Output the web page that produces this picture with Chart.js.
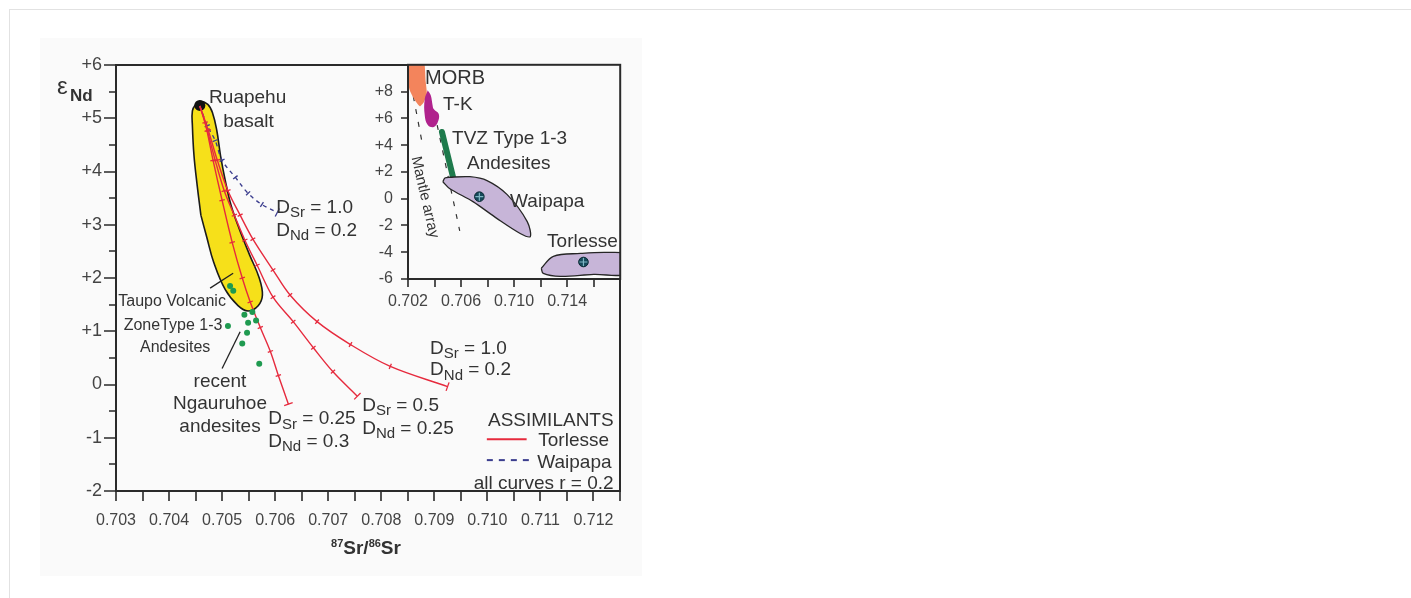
<!DOCTYPE html>
<html>
<head>
<meta charset="utf-8">
<title>Sr–Nd isotopes, Ruapehu / Ngauruhoe andesites</title>
<script src="https://cdn.jsdelivr.net/npm/chart.js@4.4.1/dist/chart.umd.min.js"></script>
<style>
  html, body { margin: 0; padding: 0; background: #ffffff; overflow: hidden; }
  #frame { position: absolute; left: 9px; top: 9px; width: 1500px; height: 700px;
           border-left: 1px solid #e2e2e2; border-top: 1px solid #e2e2e2; }
  #figure { position: absolute; left: 40px; top: 38px; width: 602px; height: 538px;
            background: #fafafa; }
  #main  { position: absolute; left: 0; top: 0; }
  #inset { position: absolute; left: 316px; top: 21px; }
</style>
</head>
<body>
<div id="frame"></div>
<div id="figure">
  <canvas id="main" width="602" height="538"></canvas>
  <canvas id="inset" width="270" height="253"></canvas>
</div>
<script>
// ---------------- main diagram: 87Sr/86Sr vs eNd ----------------
const mainXTicks      = [0.703, 0.704, 0.705, 0.706, 0.707, 0.708, 0.709, 0.710, 0.711, 0.712];
const mainXTickLabels = ['0.703', '0.704', '0.705', '0.706', '0.707', '0.708', '0.709', '0.710', '0.711', '0.712'];
const mainXMinorTicks = [0.7035, 0.7045, 0.7055, 0.7065, 0.7075, 0.7085, 0.7095, 0.7105, 0.7115, 0.7125];
const mainYTicks      = [-2, -1, 0, 1, 2, 3, 4, 5, 6];
const mainYTickLabels = ['-2', '-1', '0', '+1', '+2', '+3', '+4', '+5', '+6'];
const mainYMinorTicks = [-1.5, -0.5, 0.5, 1.5, 2.5, 3.5, 4.5, 5.5];

// Taupo Volcanic Zone type 1-3 andesite field (outline)
const tvzFieldSr = [0.70460, 0.70471, 0.70484, 0.70506, 0.70530, 0.70549, 0.70568, 0.70576, 0.70570,
                    0.70552, 0.70532, 0.70517, 0.70506, 0.70497, 0.70490, 0.70482, 0.70473, 0.70458,
                    0.70450, 0.70444, 0.70444, 0.70447, 0.70453, 0.70460];
const tvzFieldNd = [3.18, 2.77, 2.30, 1.78, 1.48, 1.38, 1.48, 1.68, 2.00,
                    2.43, 2.93, 3.36, 3.83, 4.30, 4.77, 5.10, 5.26, 5.32,
                    5.26, 5.14, 4.86, 4.30, 3.74, 3.18];

// Ruapehu basalt (starting composition)
const ruapehuSr = [0.70458];
const ruapehuNd = [5.24];

// AFC curves, Torlesse assimilant
const curveA_Sr = [0.70458, 0.70468, 0.70483, 0.70500, 0.70519, 0.70538, 0.70553, 0.70572, 0.70591, 0.70606, 0.70625];
const curveA_Nd = [5.23, 4.92, 4.21, 3.46, 2.67, 2.00, 1.55, 1.07, 0.62, 0.17, -0.37];
const curveB_Sr = [0.70458, 0.70472, 0.70487, 0.70504, 0.70523, 0.70543, 0.70566, 0.70596, 0.70634, 0.70672, 0.70709, 0.70755];
const curveB_Nd = [5.23, 4.77, 4.21, 3.64, 3.18, 2.71, 2.24, 1.64, 1.18, 0.69, 0.24, -0.22];
const curveC_Sr = [0.70458, 0.70474, 0.70491, 0.70511, 0.70534, 0.70558, 0.70596, 0.70628, 0.70679, 0.70742, 0.70817, 0.70925];
const curveC_Nd = [5.23, 4.77, 4.21, 3.64, 3.18, 2.73, 2.15, 1.68, 1.18, 0.75, 0.34, -0.04];

// AFC curve, Waipapa assimilant
const waipapaCurveSr = [0.70458, 0.70472, 0.70487, 0.70500, 0.70525, 0.70549, 0.70575, 0.70604];
const waipapaCurveNd = [5.23, 4.86, 4.58, 4.21, 3.89, 3.59, 3.38, 3.23];

// recent Ngauruhoe andesites
const ngauruhoeSr = [0.70515, 0.70521, 0.70542, 0.70557, 0.70564, 0.70549, 0.70547, 0.70538, 0.70570, 0.70511];
const ngauruhoeNd = [1.85, 1.76, 1.31, 1.36, 1.20, 1.16, 0.97, 0.77, 0.39, 1.10];

// ---------------- inset: wider Sr–Nd context ----------------
const insetXTicks      = [0.702, 0.704, 0.706, 0.708, 0.710, 0.712, 0.714, 0.716];
const insetXTickLabels = ['0.702', '', '0.706', '', '0.710', '', '0.714', ''];
const insetYTicks      = [-6, -4, -2, 0, 2, 4, 6, 8];
const insetYTickLabels = ['-6', '-4', '-2', '0', '+2', '+4', '+6', '+8'];

const morbSr = [0.70205, 0.70311, 0.70334, 0.70342, 0.70319, 0.70289, 0.70243, 0.70213, 0.70200, 0.70200, 0.70205];
const morbNd = [10.8, 10.8, 8.7, 7.81, 7.21, 6.91, 7.51, 8.10, 8.85, 10.8, 10.8];
const tkSr = [0.70349, 0.70372, 0.70385, 0.70394, 0.70432, 0.70425, 0.70394, 0.70349, 0.70326, 0.70326, 0.70349];
const tkNd = [8.10, 7.70, 7.00, 6.69, 6.32, 5.72, 5.35, 5.50, 6.25, 7.43, 8.10];
const tvzBandSr = [0.70456, 0.70539];
const tvzBandNd = [4.98, 1.64];
const waipapaFieldSr = [0.70463, 0.70478, 0.70516, 0.70667, 0.70796, 0.70948, 0.71099, 0.71122,
                        0.71046, 0.70872, 0.70690, 0.70516, 0.70463];
const waipapaFieldNd = [1.26, 1.55, 1.60, 1.64, 1.35, 0.30, -1.71, -2.83,
                        -2.60, -1.49, -0.22, 0.74, 1.26];
const torlesseFieldSr = [0.71205, 0.71296, 0.71501, 0.71705, 0.71850, 0.71850, 0.71599, 0.71349, 0.71220, 0.71205];
const torlesseFieldNd = [-5.20, -4.31, -4.09, -4.01, -4.20, -5.60, -5.65, -5.80, -5.58, -5.20];
const assimilantSr = [0.70738, 0.71523];
const assimilantNd = [0.15, -4.73];
const mantleLeftSr  = [0.70222, 0.70310];
const mantleLeftNd  = [8.6, 4.0];
const mantleRightSr = [0.70420, 0.70590];
const mantleRightNd = [5.5, -2.4];

// ---------------- styling ----------------
const FONT = "'Liberation Sans', Arial, Helvetica, sans-serif";
const TEXT = '#333333';
const TICKTEXT = '#444444';
const AXIS = '#2a2a2a';
const RED = '#e62a3d';
const BLUE = '#3b3d8e';
const BG = '#fafafa';

const pts = (xs, ys) => xs.map((x, i) => ({ x, y: ys[i] }));

// short cross-marks perpendicular to a curve
function tickAngle(ctx) {
  const data = ctx.dataset.data, i = ctx.dataIndex;
  const sx = ctx.chart.scales.x, sy = ctx.chart.scales.y;
  const a = data[Math.max(i - 1, 0)], b = data[Math.min(i + 1, data.length - 1)];
  const dx = sx.getPixelForValue(b.x) - sx.getPixelForValue(a.x);
  const dy = sy.getPixelForValue(b.y) - sy.getPixelForValue(a.y);
  return Math.atan2(dy, dx) * 180 / Math.PI + 90;
}

function afcCurve(label, xs, ys, color, dash) {
  return {
    type: 'scatter', label, data: pts(xs, ys), showLine: true,
    borderColor: color, borderWidth: 1.4, borderDash: dash || [], tension: 0.35, fill: false,
    pointStyle: 'line', pointBorderColor: color, pointBackgroundColor: color, pointBorderWidth: 1.3,
    pointRadius: c => c.dataIndex === 0 ? 0 : (c.dataIndex === c.dataset.data.length - 1 ? 4.5 : 2.8),
    pointRotation: tickAngle, order: 4
  };
}

function field(label, xs, ys, fillColor, lineColor, lineWidth, tension, order) {
  return {
    type: 'scatter', label, data: pts(xs, ys), showLine: true, fill: 'shape',
    backgroundColor: fillColor, borderColor: lineColor, borderWidth: lineWidth,
    tension, pointRadius: 0, order
  };
}

// text with _{sub} and ^{sup} runs; y is the middle of the capitals
function drawRich(ctx, str, x, y, o) {
  const parts = str.split(/(_\{[^}]*\}|\^\{[^}]*\})/).filter(Boolean).map(p => {
    if (p.startsWith('_{')) return { t: p.slice(2, -1), k: 'sub' };
    if (p.startsWith('^{')) return { t: p.slice(2, -1), k: 'sup' };
    return { t: p, k: 'n' };
  });
  const size = o.size || 18, weight = o.weight || 'normal';
  const fontFor = k => `${weight} ${k === 'n' ? size : Math.round(size * (k === 'sup' ? 0.6 : 0.8))}px ${FONT}`;
  let w = 0;
  parts.forEach(p => { ctx.font = fontFor(p.k); p.w = ctx.measureText(p.t).width; w += p.w; });
  let cx = o.align === 'center' ? x - w / 2 : o.align === 'right' ? x - w : x;
  ctx.save();
  ctx.fillStyle = o.color || TEXT;
  ctx.textBaseline = 'alphabetic';
  ctx.textAlign = 'left';
  const base = y + size * 0.36;
  parts.forEach(p => {
    ctx.font = fontFor(p.k);
    const dy = p.k === 'sub' ? size * 0.22 : p.k === 'sup' ? -size * 0.36 : 0;
    ctx.fillText(p.t, cx, base + dy);
    cx += p.w;
  });
  ctx.restore();
}

// labels anchored in data units
const mainNotes = [
  { at: [0.704755, 5.42], text: 'Ruapehu', size: 19 },
  { at: [0.70502, 4.97], text: 'basalt', size: 19 },
  { at: [0.70602, 3.35], text: 'D_{Sr} = 1.0', size: 19 },
  { at: [0.70602, 2.92], text: 'D_{Nd} = 0.2', size: 19 },
  { at: [0.70587, -0.62], text: 'D_{Sr} = 0.25', size: 19 },
  { at: [0.70587, -1.05], text: 'D_{Nd} = 0.3', size: 19 },
  { at: [0.70764, -0.37], text: 'D_{Sr} = 0.5', size: 19 },
  { at: [0.70764, -0.80], text: 'D_{Nd} = 0.25', size: 19 },
  { at: [0.70892, 0.71], text: 'D_{Sr} = 1.0', size: 19 },
  { at: [0.70892, 0.30], text: 'D_{Nd} = 0.2', size: 19 },
  { at: [0.704057, 1.59], text: 'Taupo Volcanic', size: 16, align: 'center' },
  { at: [0.704075, 1.14], text: 'ZoneType 1-3', size: 16, align: 'center' },
  { at: [0.704115, 0.71], text: 'Andesites', size: 16, align: 'center' },
  { at: [0.70496, 0.09], text: 'recent', size: 19, align: 'center' },
  { at: [0.70496, -0.34], text: 'Ngauruhoe', size: 19, align: 'center' },
  { at: [0.70496, -0.77], text: 'andesites', size: 19, align: 'center' },
  { at: [0.71238, -0.65], text: 'ASSIMILANTS', size: 19, align: 'right' },
  { at: [0.71096, -1.03], text: 'Torlesse', size: 19 },
  { at: [0.71094, -1.44], text: 'Waipapa', size: 19 },
  { at: [0.71238, -1.83], text: 'all curves r = 0.2', size: 19, align: 'right' }
];
const mainLeaders = [
  { from: [0.704774, 1.81], to: [0.705208, 2.09], color: '#222' },
  { from: [0.70500, 0.30], to: [0.70534, 0.99], color: '#222' }
];
const legendKeys = [
  { from: [0.70999, -1.03], to: [0.71074, -1.03], color: RED, dash: [] },
  { from: [0.70999, -1.42], to: [0.71080, -1.42], color: BLUE, dash: [6, 6] }
];

const insetNotes = [
  { at: [0.70328, 9.10], text: 'MORB', size: 20 },
  { at: [0.70464, 7.16], text: 'T-K', size: 19 },
  { at: [0.70532, 4.62], text: 'TVZ Type 1-3', size: 19 },
  { at: [0.70645, 2.75], text: 'Andesites', size: 19 },
  { at: [0.70970, -0.09], text: 'Waipapa', size: 19 },
  { at: [0.71249, -3.08], text: 'Torlesse', size: 19 },
  { at: [0.70336, 0.13], text: 'Mantle array', size: 15, align: 'center', rotate: 77 }
];

function frameAndTicks(chart, ctx, xMajor, xMinor, yMajor, yMinor, lens) {
  const { left, top, right, bottom } = chart.chartArea;
  const sx = chart.scales.x, sy = chart.scales.y;
  ctx.save();
  ctx.strokeStyle = AXIS;
  ctx.lineWidth = 2;
  ctx.strokeRect(left, top, right - left, bottom - top);
  ctx.lineWidth = 1.6;
  ctx.beginPath();
  xMajor.concat(xMinor).forEach(v => {
    const px = Math.round(sx.getPixelForValue(v));
    ctx.moveTo(px, bottom); ctx.lineTo(px, bottom + lens.x);
  });
  yMajor.forEach(v => {
    const py = Math.round(sy.getPixelForValue(v));
    ctx.moveTo(left, py); ctx.lineTo(left - lens.yMajor, py);
  });
  yMinor.forEach(v => {
    const py = Math.round(sy.getPixelForValue(v));
    ctx.moveTo(left, py); ctx.lineTo(left - lens.yMinor, py);
  });
  ctx.stroke();
  ctx.restore();
}

function drawNotes(chart, ctx, notes) {
  const sx = chart.scales.x, sy = chart.scales.y;
  notes.forEach(n => {
    const px = sx.getPixelForValue(n.at[0]), py = sy.getPixelForValue(n.at[1]);
    if (n.rotate) {
      ctx.save();
      ctx.translate(px, py);
      ctx.rotate(n.rotate * Math.PI / 180);
      drawRich(ctx, n.text, 0, 0, n);
      ctx.restore();
    } else {
      drawRich(ctx, n.text, px, py, n);
    }
  });
}

function drawSegments(chart, ctx, segs, width) {
  const sx = chart.scales.x, sy = chart.scales.y;
  segs.forEach(s => {
    ctx.save();
    ctx.strokeStyle = s.color;
    ctx.lineWidth = width;
    ctx.setLineDash(s.dash || []);
    ctx.beginPath();
    ctx.moveTo(sx.getPixelForValue(s.from[0]), sy.getPixelForValue(s.from[1]));
    ctx.lineTo(sx.getPixelForValue(s.to[0]), sy.getPixelForValue(s.to[1]));
    ctx.stroke();
    ctx.restore();
  });
}

const mainDecor = {
  id: 'mainDecor',
  afterDatasetsDraw(chart) {
    const ctx = chart.ctx;
    const { left, top, right, bottom } = chart.chartArea;
    drawSegments(chart, ctx, mainLeaders, 1.3);
    drawSegments(chart, ctx, legendKeys, 2);
    drawNotes(chart, ctx, mainNotes);
    frameAndTicks(chart, ctx, mainXTicks, mainXMinorTicks, mainYTicks, mainYMinorTicks,
                  { x: 10, yMajor: 12, yMinor: 7 });
    // axis titles
    drawRich(ctx, '\u03b5', left - 59, top + 20, { size: 24, color: TEXT });
    drawRich(ctx, 'Nd', left - 46, top + 30, { size: 17, weight: 'bold', color: TEXT });
    drawRich(ctx, '^{87}Sr/^{86}Sr', (left + right) / 2 - 2, bottom + 56,
             { size: 19, weight: 'bold', align: 'center', color: TEXT });
  }
};

const insetDecor = {
  id: 'insetDecor',
  beforeDatasetsDraw(chart) {
    const { left, top, right, bottom } = chart.chartArea;
    chart.ctx.save();
    chart.ctx.fillStyle = BG;
    chart.ctx.fillRect(left, top, right - left, bottom - top);
    chart.ctx.restore();
  },
  afterDatasetsDraw(chart) {
    const ctx = chart.ctx;
    drawNotes(chart, ctx, insetNotes);
    frameAndTicks(chart, ctx, insetXTicks, [], insetYTicks, [], { x: 8, yMajor: 7, yMinor: 0 });
  }
};

function fixedTicks(values) {
  return scale => { scale.ticks = values.map(v => ({ value: v })); };
}
// fixed axis box sizes; label overhang is already covered by the layout padding
function fixedBox(width, height) {
  return s => {
    if (width !== null) s.width = width;
    if (height !== null) s.height = height;
    s.paddingTop = 0; s.paddingBottom = 0; s.paddingLeft = 0; s.paddingRight = 0;
  };
}

// ---------------- main chart ----------------
new Chart(document.getElementById('main'), {
  type: 'scatter',
  data: {
    datasets: [
      { type: 'scatter', label: 'recent Ngauruhoe andesites', data: pts(ngauruhoeSr, ngauruhoeNd),
        pointRadius: 3, pointBackgroundColor: '#1f9a50', pointBorderWidth: 0, order: 1 },
      afcCurve('Torlesse, DSr 0.25 / DNd 0.3', curveA_Sr, curveA_Nd, RED),
      afcCurve('Torlesse, DSr 0.5 / DNd 0.25', curveB_Sr, curveB_Nd, RED),
      afcCurve('Torlesse, DSr 1.0 / DNd 0.2', curveC_Sr, curveC_Nd, RED),
      afcCurve('Waipapa, DSr 1.0 / DNd 0.2', waipapaCurveSr, waipapaCurveNd, BLUE, [4, 4]),
      { type: 'scatter', label: 'Ruapehu basalt', data: pts(ruapehuSr, ruapehuNd),
        pointRadius: 5.5, pointBackgroundColor: '#111', pointBorderWidth: 0, order: 6 },
      field('Taupo Volcanic Zone type 1-3 andesites', tvzFieldSr, tvzFieldNd, '#f6e01a', '#1b1b1b', 1.6, 0.4, 9)
    ]
  },
  options: {
    responsive: false, maintainAspectRatio: false, animation: false, devicePixelRatio: 1,
    events: [],
    layout: { padding: { left: 0, top: 27, right: 22, bottom: 0 } },
    plugins: { legend: { display: false }, tooltip: { enabled: false } },
    scales: {
      x: {
        type: 'linear', min: 0.703, max: 0.7125,
        afterBuildTicks: fixedTicks(mainXTicks),
        afterFit: fixedBox(null, 85),
        grid: { display: false, drawTicks: false },
        border: { display: false },
        ticks: { padding: 20, maxRotation: 0, autoSkip: false, color: TICKTEXT,
                 font: { family: FONT, size: 16 },
                 callback: (v, i) => mainXTickLabels[i] }
      },
      y: {
        type: 'linear', min: -2, max: 6,
        afterBuildTicks: fixedTicks(mainYTicks),
        afterFit: fixedBox(76, null),
        grid: { display: false, drawTicks: false },
        border: { display: false },
        ticks: { padding: 14, autoSkip: false, color: TICKTEXT,
                 font: { family: FONT, size: 18 },
                 callback: (v, i) => mainYTickLabels[i] }
      }
    }
  },
  plugins: [mainDecor]
});

// ---------------- inset chart ----------------
new Chart(document.getElementById('inset'), {
  type: 'scatter',
  data: {
    datasets: [
      { type: 'scatter', label: 'assimilant', data: pts(assimilantSr, assimilantNd),
        pointStyle: 'cross', pointRadius: 4, pointBorderColor: '#7fb6c4', pointBorderWidth: 1.2, order: 1 },
      { type: 'scatter', label: 'assimilant mean', data: pts(assimilantSr, assimilantNd),
        pointRadius: 4.8, pointBackgroundColor: '#15495a', pointBorderColor: '#0b2a33', pointBorderWidth: 1, order: 2 },
      field('Torlesse', torlesseFieldSr, torlesseFieldNd, '#c7b5d8', '#262626', 1.3, 0.35, 3),
      field('Waipapa', waipapaFieldSr, waipapaFieldNd, '#c7b5d8', '#262626', 1.3, 0.3, 4),
      { type: 'scatter', label: 'TVZ type 1-3 andesites', data: pts(tvzBandSr, tvzBandNd), showLine: true,
        borderColor: '#1e7a4c', borderWidth: 6, borderCapStyle: 'round', pointRadius: 0, order: 5 },
      field('T-K', tkSr, tkNd, '#b0228d', 'rgba(0,0,0,0)', 0, 0.4, 6),
      field('MORB', morbSr, morbNd, '#f3845c', 'rgba(0,0,0,0)', 0, 0.2, 7),
      { type: 'scatter', label: 'mantle array', data: pts(mantleLeftSr, mantleLeftNd), showLine: true,
        borderColor: '#333', borderWidth: 1.2, borderDash: [5, 8], pointRadius: 0, order: 8 },
      { type: 'scatter', label: 'mantle array', data: pts(mantleRightSr, mantleRightNd), showLine: true,
        borderColor: '#333', borderWidth: 1.2, borderDash: [5, 8], pointRadius: 0, order: 8 }
    ]
  },
  options: {
    responsive: false, maintainAspectRatio: false, animation: false, devicePixelRatio: 1,
    events: [],
    layout: { padding: { left: 0, top: 3, right: 2, bottom: 0 } },
    plugins: { legend: { display: false }, tooltip: { enabled: false } },
    scales: {
      x: {
        type: 'linear', min: 0.702, max: 0.718,
        afterBuildTicks: fixedTicks(insetXTicks),
        afterFit: fixedBox(null, 33),
        grid: { display: false, drawTicks: false },
        border: { display: false },
        ticks: { padding: 13, maxRotation: 0, autoSkip: false, color: TICKTEXT,
                 font: { family: FONT, size: 16 },
                 callback: (v, i) => insetXTickLabels[i] }
      },
      y: {
        type: 'linear', min: -6, max: 10,
        afterBuildTicks: fixedTicks(insetYTicks),
        afterFit: fixedBox(52, null),
        grid: { display: false, drawTicks: false },
        border: { display: false },
        ticks: { padding: 15, autoSkip: false, color: TICKTEXT,
                 font: { family: FONT, size: 16 },
                 callback: (v, i) => insetYTickLabels[i] }
      }
    }
  },
  plugins: [insetDecor]
});
</script>
</body>
</html>
